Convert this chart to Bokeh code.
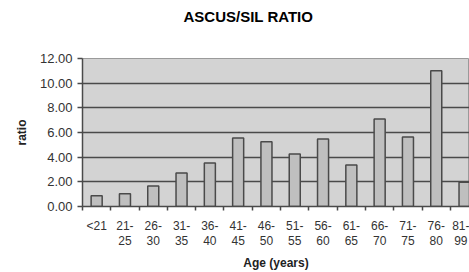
from bokeh.plotting import figure
from bokeh.models import Range1d, FixedTicker, NumeralTickFormatter, ColumnDataSource, Title
from bokeh.embed import file_html
from bokeh.resources import INLINE

title_text = "ASCUS/SIL RATIO"
categories = ["<21", "21-25", "26-30", "31-35", "36-40", "41-45", "46-50",
              "51-55", "56-60", "61-65", "66-70", "71-75", "76-80", "81-99"]
tick_labels = ["<21", "21-\n25", "26-\n30", "31-\n35", "36-\n40", "41-\n45", "46-\n50",
               "51-\n55", "56-\n60", "61-\n65", "66-\n70", "71-\n75", "76-\n80", "81-\n99"]
ratio = [0.87, 1.03, 1.67, 2.72, 3.53, 5.55, 5.26, 4.26, 5.47, 3.37, 7.09, 5.63, 11.0, 1.97]
y_ticks = [0, 2, 4, 6, 8, 10, 12]

n = len(categories)
centers = [i + 0.5 for i in range(n)]
bounds = [i for i in range(n + 1)]

FONT = "Liberation Sans"

p = figure(width=469, height=272, output_backend="svg", toolbar_location=None,
           x_range=Range1d(0, 13.675), y_range=Range1d(0, 12),
           min_border_left=82, min_border_right=0, min_border_top=57, min_border_bottom=66)

p.background_fill_color = "#d3d3d3"
p.border_fill_color = "white"
p.outline_line_color = "#9a9a9a"
p.outline_line_width = 1

src = ColumnDataSource(dict(x=centers, top=ratio, cat=categories))
p.vbar(x="x", top="top", width=0.39, bottom=0, source=src,
       fill_color="#bfbfbf", line_color="#4a4a4a", line_width=1.5)

# spacer panel (closest to frame), then the visible title above it
p.add_layout(Title(text=" ", text_font=FONT, text_font_size="12px", standoff=8), "above")
p.add_layout(Title(text=title_text, text_font=FONT, text_font_size="15px",
                   text_font_style="bold", text_color="black", align="left",
                   vertical_align="top", standoff=15, offset=101), "above")

# x axis
xa = p.xaxis[0]
xa.ticker = FixedTicker(ticks=centers, minor_ticks=bounds)
xa.major_label_overrides = {c: lab for c, lab in zip(centers, tick_labels)}
xa.major_tick_line_color = None
xa.major_tick_in = 0
xa.major_tick_out = 4
xa.minor_tick_in = 0
xa.minor_tick_out = 4
xa.minor_tick_line_color = "#4a4a4a"
xa.minor_tick_line_width = 1.5
xa.axis_line_color = "#4a4a4a"
xa.axis_line_width = 1.5
xa.major_label_text_font = FONT
xa.major_label_text_font_size = "12px"
xa.major_label_text_color = "#333333"
xa.major_label_text_line_height = 1.1
xa.major_label_standoff = 8
xa.axis_label = "Age (years)"
xa.axis_label_text_font = FONT
xa.axis_label_text_font_size = "12px"
xa.axis_label_text_font_style = "bold"
xa.axis_label_text_color = "#222222"
xa.axis_label_standoff = 5

# y axis
ya = p.yaxis[0]
ya.ticker = FixedTicker(ticks=y_ticks)
ya.formatter = NumeralTickFormatter(format="0.00")
ya.major_tick_in = 0
ya.major_tick_out = 5
ya.major_tick_line_color = "#4a4a4a"
ya.major_tick_line_width = 1.5
ya.minor_tick_line_color = None
ya.axis_line_color = "#4a4a4a"
ya.axis_line_width = 1.5
ya.major_label_text_font = FONT
ya.major_label_text_font_size = "13px"
ya.major_label_text_color = "#333333"
ya.major_label_standoff = 5
ya.axis_label = "ratio"
ya.axis_label_text_font = FONT
ya.axis_label_text_font_size = "12px"
ya.axis_label_text_font_style = "bold"
ya.axis_label_text_color = "#222222"
ya.axis_label_standoff = 8

p.xgrid.grid_line_color = None
p.ygrid.ticker = FixedTicker(ticks=y_ticks[1:-1])
p.ygrid.grid_line_color = "#4a4a4a"
p.ygrid.grid_line_width = 1.5

open("out.html", "w").write(file_html(p, INLINE))
